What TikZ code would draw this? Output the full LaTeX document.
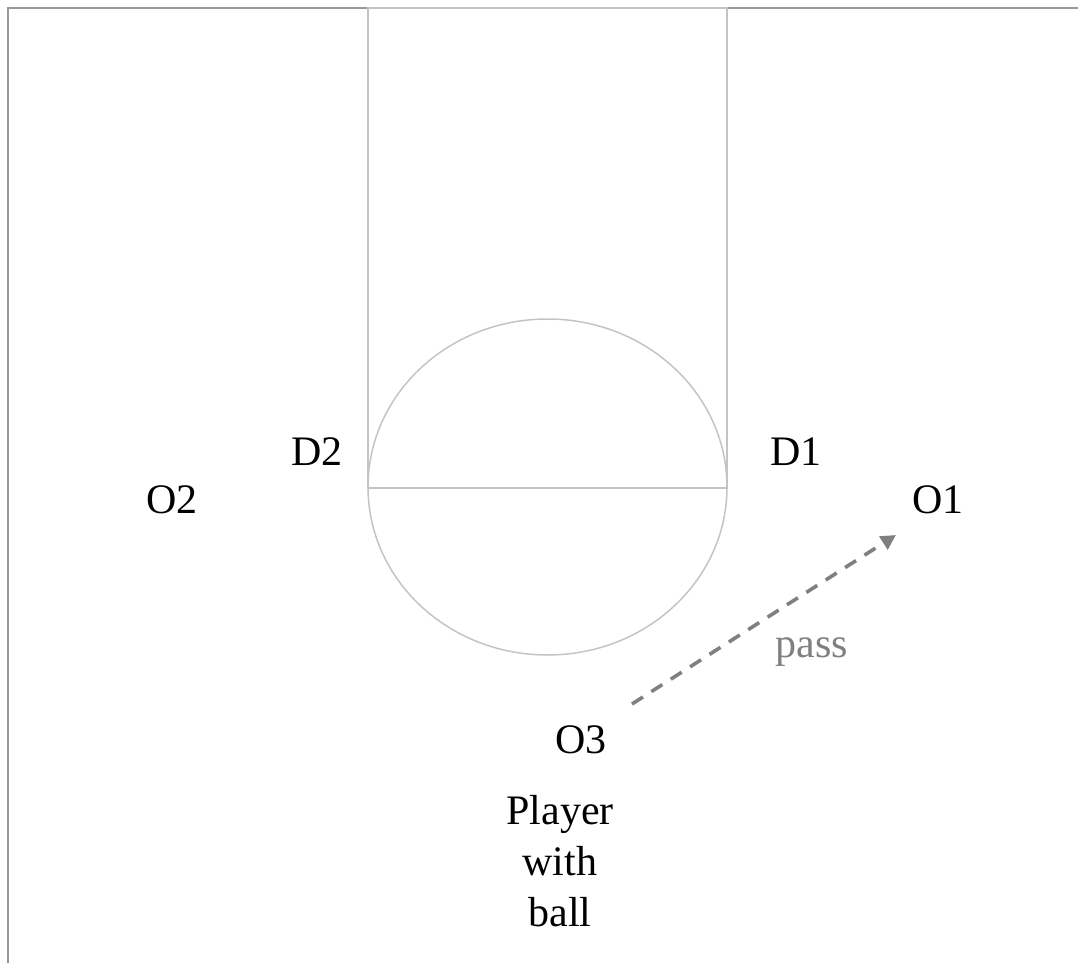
\documentclass[tikz,border=0pt]{standalone}
\usepackage{fontspec}
\setmainfont{Liberation Serif}
\usetikzlibrary{arrows.meta}
\definecolor{borderc}{HTML}{999999}
\definecolor{lanec}{HTML}{C4C4C4}
\definecolor{passc}{HTML}{808080}
\begin{document}
\begin{tikzpicture}[x=1pt,y=-1pt,
  court/.style={draw=borderc,line width=1.6pt},
  lane/.style={draw=lanec,line width=1.5pt},
  lbl/.style={font=\fontsize{42}{51}\selectfont,inner sep=0pt,anchor=base},
  passarrow/.style={draw=passc,line width=3.6pt,dash pattern=on 13pt off 10pt,-{Triangle[length=15pt,width=15pt]}},
  passlbl/.style={lbl,text=passc}]
\useasboundingbox (0,0) rectangle (1078,963);
% court border
\draw[court] (8,963) -- (8,8) -- (1078,8);
% lane
\draw[lane] (368,488) -- (368,8) -- (727,8) -- (727,488) -- cycle;
\draw[lane] (547.5,487) ellipse [x radius=179.5,y radius=168];
% players
\node[lbl] (D2) at (317,465) {D2};
\node[lbl] (D1) at (796,465) {D1};
\node[lbl] (O2) at (172,513) {O2};
\node[lbl] (O1) at (938,513) {O1};
\node[lbl] (O3) at (581,753) {O3};
\node[font=\fontsize{42}{51}\selectfont,inner sep=0pt,anchor=north,align=center] (ball) at (560,795) {Player\\with\\ball};
% pass
\coordinate (ps) at (632,704);
\coordinate (pe) at (896,535);
\draw[passarrow] (ps) -- (pe);
\node[passlbl] (pass) at (812,657) {pass};
\end{tikzpicture}
\end{document}
